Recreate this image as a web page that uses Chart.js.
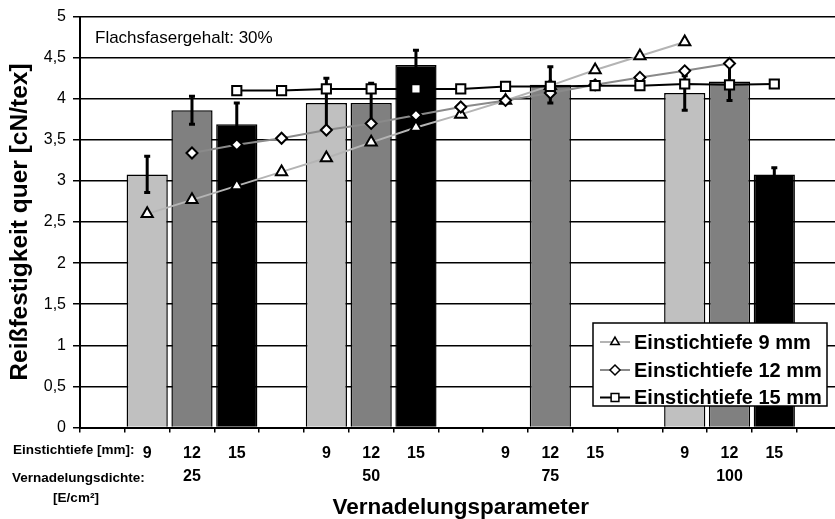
<!DOCTYPE html>
<html>
<head>
<meta charset="utf-8">
<script src="https://cdn.jsdelivr.net/npm/chart.js@4.4.1/dist/chart.umd.min.js"></script>
<style>
html, body { margin:0; padding:0; background:#fff; overflow:hidden; }
#wrap { width:835px; height:519px; overflow:hidden; }
</style>
</head>
<body>
<div id="wrap"><canvas id="chart" width="850" height="519"></canvas></div>
<script>
// category slots: empty slot between the density groups
const depthLabels   = ['', '9', '12', '15', '', '9', '12', '15', '', '9', '12', '15', '', '9', '12', '15', ''];
const densityLabels = ['', '', '25', '', '', '', '50', '', '', '', '75', '', '', '', '100', '', ''];

// bars: Reißfestigkeit quer with error
const barValues = [null, 3.08, 3.86, 3.69, null, 3.95, 3.95, 4.41, null, null, 4.17, null, null, 4.07, 4.21, 3.08, null];
const barErrors = [null, 0.22, 0.17, 0.26, null, 0.30, 0.24, 0.18, null, null, 0.22, null, null, 0.21, 0.23, 0.08, null];

// line series
const depth9  = [null, 2.60, 2.77, 2.94, 3.11, 3.28, 3.47, 3.65, 3.81, 3.98, 4.16, 4.35, 4.52, 4.69, null, null, null];
const depth12 = [null, null, 3.34, 3.44, 3.52, 3.62, 3.70, 3.80, 3.90, 3.98, 4.07, 4.17, 4.26, 4.34, 4.43, null, null];
const depth15 = [null, null, null, 4.10, 4.10, 4.12, 4.12, 4.12, 4.12, 4.15, 4.15, 4.16, 4.16, 4.18, 4.17, 4.18, null];

const yTicks = [0, 0.5, 1, 1.5, 2, 2.5, 3, 3.5, 4, 4.5, 5];

const FONT = "'Liberation Sans', Arial, sans-serif";
Chart.defaults.font.family = FONT;
Chart.defaults.color = '#000';

const barColor = { '9': '#c0c0c0', '12': '#808080', '15': '#000000' };
const labels = depthLabels.map((d, i) => densityLabels[i] ? [d, densityLabels[i]] : d);

function marker(ctx, style, x, y, r) {
    ctx.beginPath();
    if (style === 'triangle') {
        ctx.moveTo(x, y - r);
        ctx.lineTo(x + r * 0.866, y + r * 0.5);
        ctx.lineTo(x - r * 0.866, y + r * 0.5);
        ctx.closePath();
    } else if (style === 'rectRot') {
        ctx.moveTo(x - r, y); ctx.lineTo(x, y - r); ctx.lineTo(x + r, y); ctx.lineTo(x, y + r);
        ctx.closePath();
    } else {
        const s = r * Math.SQRT1_2;
        ctx.rect(x - s, y - s, 2 * s, 2 * s);
    }
    ctx.fill(); ctx.stroke();
}

const errorBars = {
    id: 'errorBars',
    afterDatasetDraw(chart, args) {
        if (args.index !== 0) return;
        const ctx = chart.ctx, ys = chart.scales.y;
        ctx.save();
        ctx.strokeStyle = '#000'; ctx.lineWidth = 3;
        args.meta.data.forEach((bar, i) => {
            const v = barValues[i], e = barErrors[i];
            if (v == null || e == null) return;
            const x = bar.x, t = ys.getPixelForValue(v + e), b = ys.getPixelForValue(v - e);
            ctx.beginPath();
            ctx.moveTo(x, t); ctx.lineTo(x, b);
            ctx.moveTo(x - 3, t); ctx.lineTo(x + 3, t);
            ctx.moveTo(x - 3, b); ctx.lineTo(x + 3, b);
            ctx.stroke();
        });
        ctx.restore();
    }
};

const extras = {
    id: 'extras',
    afterDraw(chart) {
        const ctx = chart.ctx;
        ctx.save();
        ctx.fillStyle = '#000';
        ctx.textBaseline = 'middle';
        ctx.textAlign = 'left';
        ctx.font = '17px ' + FONT;
        ctx.fillText('Flachsfasergehalt: 30%', 95, 38);

        ctx.textBaseline = 'alphabetic';
        ctx.font = 'bold 13.5px ' + FONT;
        ctx.fillText('Einstichtiefe [mm]:', 13, 453.5);
        ctx.fillText('Vernadelungsdichte:', 12, 481.5);
        ctx.textAlign = 'center';
        ctx.fillText('[E/cm\u00b2]', 76, 502);

        // legend
        const bx = 593, by = 323, bw = 234, bh = 83;
        ctx.fillStyle = '#fff';
        ctx.fillRect(bx, by, bw, bh);
        ctx.strokeStyle = '#000'; ctx.lineWidth = 1.5;
        ctx.strokeRect(bx, by, bw, bh);
        const rows = [342, 370, 397.5];
        [1, 2, 3].forEach((di, k) => {
            const ds = chart.data.datasets[di];
            const y = rows[k];
            ctx.strokeStyle = ds.borderColor; ctx.lineWidth = 2;
            ctx.beginPath(); ctx.moveTo(600, y); ctx.lineTo(630, y); ctx.stroke();
            ctx.fillStyle = '#fff'; ctx.strokeStyle = '#000'; ctx.lineWidth = 1.5;
            marker(ctx, ds.pointStyle, 615, y, ds.pointStyle === 'rect' ? 5.5 : 5);
            ctx.fillStyle = '#000';
            ctx.textAlign = 'left'; ctx.textBaseline = 'middle';
            ctx.font = 'bold 20px ' + FONT;
            ctx.fillText(ds.label, 634, y + 1);
        });
        ctx.restore();
    }
};

new Chart(document.getElementById('chart'), {
    type: 'bar',
    data: {
        labels: labels,
        datasets: [
            { type: 'bar', label: 'Reißfestigkeit', data: barValues, order: 4,
              backgroundColor: depthLabels.map(d => barColor[d] || '#fff'),
              borderColor: '#000', borderWidth: 1.5,
              categoryPercentage: 1, barPercentage: 0.92 },
            { type: 'line', label: 'Einstichtiefe 9 mm', data: depth9, order: 3,
              borderColor: '#b4b4b4', borderWidth: 2, pointStyle: 'triangle', pointRadius: 6.5,
              pointBackgroundColor: '#fff', pointBorderColor: '#000', pointBorderWidth: 2 },
            { type: 'line', label: 'Einstichtiefe 12 mm', data: depth12, order: 2,
              borderColor: '#8a8a8a', borderWidth: 2, pointStyle: 'rectRot', pointRadius: 5.5,
              pointBackgroundColor: '#fff', pointBorderColor: '#000', pointBorderWidth: 2 },
            { type: 'line', label: 'Einstichtiefe 15 mm', data: depth15, order: 1,
              borderColor: '#000', borderWidth: 2, pointStyle: 'rect', pointRadius: 6.5,
              pointBackgroundColor: '#fff', pointBorderColor: '#000', pointBorderWidth: 2 }
        ]
    },
    options: {
        responsive: false,
        animation: false,
        layout: { padding: { top: 15, right: 3, left: 0, bottom: 0 } },
        plugins: { legend: { display: false }, tooltip: { enabled: false } },
        scales: {
            x: {
                offset: true,
                grid: { offset: true, drawOnChartArea: false, drawTicks: true, tickLength: 5, color: '#000', lineWidth: 1.5 },
                border: { color: '#000', width: 2 },
                ticks: { autoSkip: false, maxRotation: 0, padding: 10, color: '#000',
                         font: { size: 16, weight: 'bold', lineHeight: 1.44 } },
                title: { display: true, text: 'Vernadelungsparameter', color: '#000',
                         font: { size: 22.5, weight: 'bold', lineHeight: 1 }, padding: { top: 0, bottom: 0 } },
                afterFit: s => { s.height = 91.5; }
            },
            y: {
                min: 0, max: 5,
                afterBuildTicks: s => { s.ticks = yTicks.map(v => ({ value: v })); },
                grid: { color: '#000', lineWidth: 1.5, tickLength: 7 },
                border: { color: '#000', width: 2 },
                ticks: { padding: 7, color: '#000', font: { size: 16 },
                         callback: v => String(v).replace('.', ',') },
                title: { display: true, text: 'Reißfestigkeit quer [cN/tex]', color: '#000',
                         font: { size: 24.5, weight: 'bold', lineHeight: 1 }, padding: { top: 8, bottom: 0 } },
                afterFit: s => { s.width = 80; }
            }
        }
    },
    plugins: [errorBars, extras]
});
</script>
</body>
</html>
